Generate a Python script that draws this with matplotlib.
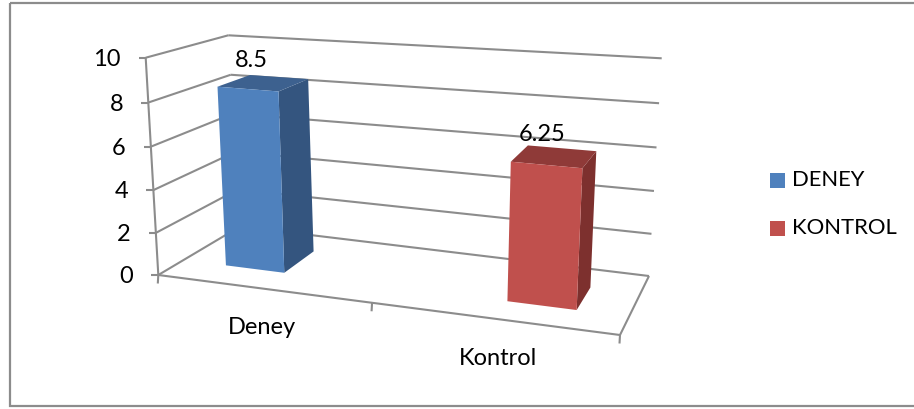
#!/usr/bin/env python3

import matplotlib
matplotlib.use("Agg")
import matplotlib.pyplot as plt
from matplotlib.patches import Polygon, Rectangle

categories = ["Deney", "Kontrol"]
series_names = ["DENEY", "KONTROL"]
values = [8.5, 6.25]
y_ticks = [0, 2, 4, 6, 8, 10]
value_labels = ["8.5", "6.25"]

Y_MAX = 10

# Corners of the 3D plot box in screen pixels
FRONT_LEFT = ((158.3, 275.0), (145.7, 57.7))
FRONT_RIGHT = ((620.0, 335.0), (632.0, 95.0))
BACK_LEFT = ((240.0, 226.5), (228.3, 35.3))
BACK_RIGHT = ((649.0, 276.0), (661.7, 58.3))

# Bar footprints as fractions of the floor
BAR_SPANS = [(0.095, 0.226), (0.727, 0.8825)]
BAR_DEPTHS = [(0.31, 0.73), (0.31, 0.70)]

FRONT_COLORS = ["#4F81BD", "#C0504D"]
SIDE_COLORS = ["#34557F", "#7D302E"]
TOP_COLORS = ["#3D618F", "#8F3A38"]
LINE_COLOR = "#8C8C8C"
FONT = "Lato"
AXIS_FONT_SIZE = 17
LEGEND_FONT_SIZE = 15.8


def lerp(a, b, t):
    return (a[0] + (b[0] - a[0]) * t, a[1] + (b[1] - a[1]) * t)


def project(u, value, d):
    # slight foreshortening towards the top of the axis
    v = value / Y_MAX
    v = v / (v + 1.04 * (1 - v)) if v > 0 else 0.0
    front = lerp(lerp(*FRONT_LEFT, v), lerp(*FRONT_RIGHT, v), u)
    back = lerp(lerp(*BACK_LEFT, v), lerp(*BACK_RIGHT, v), u)
    return lerp(front, back, d)


def draw_line(ax, p, q, zorder=1):
    ax.plot([p[0], q[0]], [p[1], q[1]], color=LINE_COLOR, lw=1.5,
            solid_capstyle="butt", zorder=zorder)


plt.rcParams["font.family"] = [FONT, "DejaVu Sans"]
fig = plt.figure(figsize=(9.14, 4.09), dpi=100)
ax = fig.add_axes([0, 0, 1, 1])
ax.set_xlim(0, 914)
ax.set_ylim(409, 0)
ax.axis("off")

# outer chart frame
ax.add_patch(Rectangle((9.5, 3), 930, 403, fill=False, edgecolor="#8C8C8C", lw=1.6))

# walls, gridlines and value axis
for tick in y_ticks:
    left = project(0, tick, 0)
    corner = project(0, tick, 1)
    right = project(1, tick, 1)
    draw_line(ax, left, corner)
    draw_line(ax, corner, right)
    draw_line(ax, (left[0] - 7, left[1]), left)
    ax.text(left[0] - 25, left[1] + 1.5, str(tick), ha="right", va="center",
            fontsize=AXIS_FONT_SIZE, color="black")

draw_line(ax, project(0, 0, 0), project(0, Y_MAX, 0))
draw_line(ax, project(0, 0, 0), project(1, 0, 0))
draw_line(ax, project(1, 0, 0), project(1, 0, 1))

# category ticks along the floor edge
for u in [0, 0.463, 1]:
    p = project(u, 0, 0)
    draw_line(ax, p, (p[0] - 0.5, p[1] + 8.5))

# bars
for i, value in enumerate(values):
    u0, u1 = BAR_SPANS[i]
    d0, d1 = BAR_DEPTHS[i]
    front = [project(u0, 0, d0), project(u1, 0, d0), project(u1, value, d0), project(u0, value, d0)]
    side = [project(u1, 0, d0), project(u1, 0, d1), project(u1, value, d1), project(u1, value, d0)]
    top = [project(u0, value, d0), project(u1, value, d0), project(u1, value, d1), project(u0, value, d1)]
    ax.add_patch(Polygon(side, closed=True, facecolor=SIDE_COLORS[i], edgecolor="none", zorder=3))
    ax.add_patch(Polygon(top, closed=True, facecolor=TOP_COLORS[i], edgecolor="none", zorder=3))
    ax.add_patch(Polygon(front, closed=True, facecolor=FRONT_COLORS[i], edgecolor="none", zorder=4))

    mid = project((u0 + u1) / 2, value, (d0 + d1) / 2)
    ax.text(mid[0] - 12, mid[1] - 22.5, value_labels[i], ha="center", va="center",
            fontsize=AXIS_FONT_SIZE, color="black", zorder=5)

# category labels
for label, u in zip(categories, [0.224, 0.736]):
    p = project(u, 0, 0)
    ax.text(p[0], p[1] + 39, label, ha="center", va="center",
            fontsize=AXIS_FONT_SIZE, color="black")

# legend
for name, color, y in zip(series_names, FRONT_COLORS, [180.5, 228.5]):
    ax.add_patch(Rectangle((770, y - 7.5), 15, 15, facecolor=color, edgecolor="none"))
    ax.text(792.5, y - 0.5, name, ha="left", va="center",
            fontsize=LEGEND_FONT_SIZE, color="black")

fig.savefig("out.png", dpi=100)
